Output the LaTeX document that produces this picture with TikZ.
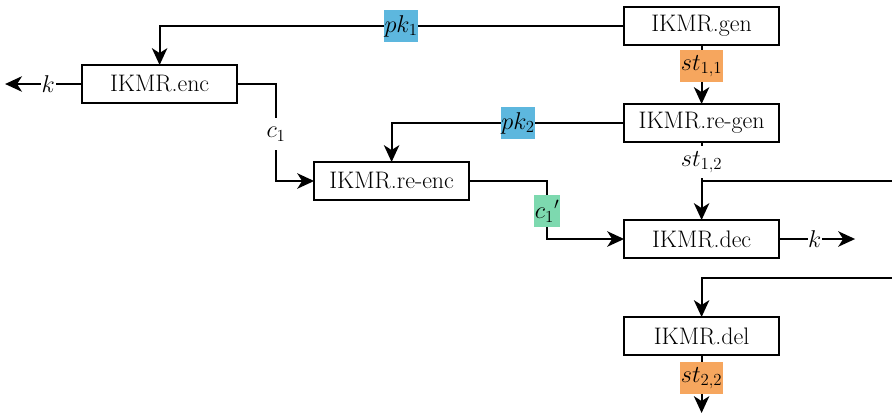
\documentclass[tikz,border=0pt]{standalone}
\usepackage{xcolor}
\usetikzlibrary{arrows.meta,positioning}
\definecolor{ikmrblue}{HTML}{5DB7DE}
\definecolor{ikmrorange}{HTML}{F6A65E}
\definecolor{ikmrgreen}{HTML}{7DD9AF}

\begin{document}
\begin{tikzpicture}[
        font=\fontsize{17}{20}\selectfont,
        node distance=1.475cm,
        block/.style={
            draw,
            line width=1.3pt,
            outer sep=0pt,
            minimum width=3.875cm,
            minimum height=0.95cm,
            inner sep=0pt
        },
        flow/.style={-{Stealth[length=12pt,width=11pt,inset=3.5pt]},line width=1.3pt},
        wire/.style={line width=1.3pt},
        tag/.style={fill=#1,inner xsep=0.5pt,inner ysep=0pt,minimum height=0.8cm},
        tag/.default=white
    ]
    \useasboundingbox (0,0) rectangle (22.3,-10.35);
    \coordinate (rim) at (22.3,-10.35);

    \node[block] (gen) at (17.54,-0.65) {IKMR.gen};
    \node[block, below=of gen] (regen) {IKMR.re-gen};
    \node[block, below=1.95cm of regen] (dec) {IKMR.dec};
    \node[block, below=of dec] (del) {IKMR.del};
    \node[block] (enc) at (3.99,-2.1) {IKMR.enc};
    \node[block] (reenc) at (9.79,-4.525) {IKMR.re-enc};

    % loose ends of the wires
    \coordinate (kleft) at ([xshift=-1.925cm]enc.west);
    \coordinate (kright) at ([xshift=1.9cm]dec.east);
    \coordinate (tap) at (reenc -| regen);
    \coordinate (outA) at (tap -| rim);
    \coordinate (inB) at ([yshift=-0.5cm]dec.south -| rim);
    \coordinate (stout) at ([yshift=-1.45cm]del.south);

    \draw[flow] (gen.west) -| node[tag=ikmrblue,pos=0.24]{$pk_1$} (enc.north);
    \draw[flow] (gen) -- node[tag=ikmrorange,pos=0.36]{$st_{1,1}$} (regen);
    \draw[flow] (regen.west) -| node[tag=ikmrblue,pos=0.228]{$pk_2$} (reenc.north);
    \draw[flow] (regen) -- node[tag,pos=0.26]{$st_{1,2}$} (dec);
    \draw[wire] (tap) -- (outA);
    \draw[flow] (inB) -| (del.north);
    \draw[flow] (del) -- node[tag=ikmrorange,pos=0.4]{$st_{2,2}$} (stout);
    \draw[flow] (enc) -- node[tag,pos=0.44]{$k$} (kleft);
    \draw[flow] (enc.east) -- ++(0.975,0) |- node[tag,pos=0.26]{$c_1$} (reenc);
    \draw[flow] (reenc.east) -- ++(1.95,0) |- node[tag=ikmrgreen,pos=0.26]{${c_1}'$} (dec);
    \draw[flow] (dec) -- node[tag,pos=0.47]{$k$} (kright);
\end{tikzpicture}
\end{document}
